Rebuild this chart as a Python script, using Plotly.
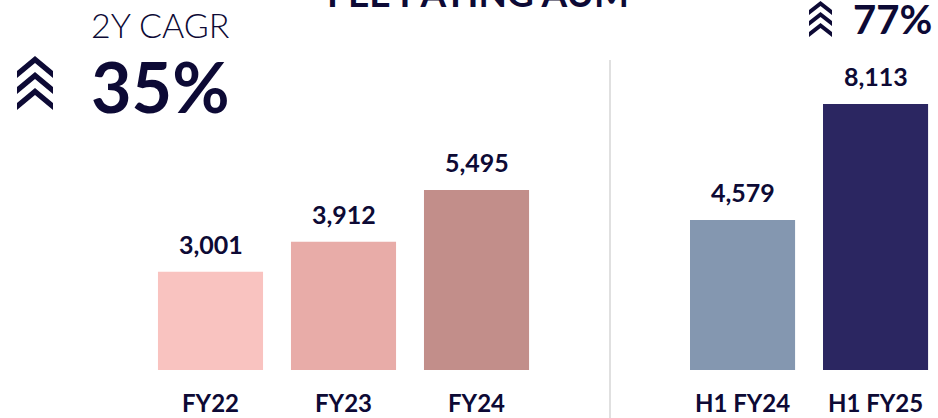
import plotly.graph_objects as go

# ---- data ----
annual_labels = ["FY22", "FY23", "FY24"]
annual_values = [3001, 3912, 5495]
half_labels = ["H1 FY24", "H1 FY25"]
half_values = [4579, 8113]
cagr_title = "2Y CAGR"
cagr_value = "35%"
half_growth = "77%"
chart_title = "FEE PAYING AUM"

annual_colors = ["#f9c3c0", "#e8aca8", "#c28e8a"]
half_colors = ["#8497b0", "#2b2661"]
NAVY = "#0d0a35"
FONT = "Lato"

W, H = 938, 418
ML, MR, MB = 144, 3, 48
MT = 0
PW, PH = W - ML - MR, H - MT - MB

# positions: annual group, one empty slot, half-year group
annual_x = list(range(len(annual_labels)))
half_x = [len(annual_labels) + 1 + i for i in range(len(half_labels))]

labels = annual_labels + half_labels
values = annual_values + half_values
xs = annual_x + half_x
colors = annual_colors + half_colors

fig = go.Figure()
fig.add_trace(go.Bar(x=xs, y=values, marker=dict(color=colors, line=dict(width=0)),
                     width=0.79, hoverinfo="skip"))

# screen pixel -> paper coordinates
def px(xp):
    return (xp - ML) / PW

def py(yp):
    return 1 - (yp - MT) / PH

annotations = []
for x, v in zip(xs, values):
    annotations.append(dict(x=x, y=v, xref="x", yref="y", text=f"{v:,}", showarrow=False,
                            yanchor="bottom", yshift=11,
                            font=dict(family=FONT, size=25, color=NAVY, weight="bold")))

annotations += [
    dict(x=px(160), y=py(24), xref="paper", yref="paper", text=cagr_title, showarrow=False,
         xanchor="center", yanchor="middle",
         font=dict(family=FONT, size=34, color=NAVY, weight=300)),
    dict(x=px(160), y=py(86), xref="paper", yref="paper", text=cagr_value, showarrow=False,
         xanchor="center", yanchor="middle",
         font=dict(family=FONT, size=70, color=NAVY, weight="bold")),
    dict(x=px(892), y=py(19), xref="paper", yref="paper", text=half_growth, showarrow=False,
         xanchor="center", yanchor="middle",
         font=dict(family=FONT, size=40, color=NAVY, weight="bold")),
    dict(x=px(478), y=py(-7), xref="paper", yref="paper", text=chart_title, showarrow=False,
         xanchor="center", yanchor="middle",
         font=dict(family=FONT, size=37, color=NAVY, weight="bold")),
]

def chevrons(cx, half, apexes, drop, t):
    shapes = []
    for ya in apexes:
        pts = [(cx, ya), (cx + half, ya + drop), (cx + half, ya + drop + t), (cx, ya + t),
               (cx - half, ya + drop + t), (cx - half, ya + drop)]
        path = "M " + " L ".join(f"{px(a):.5f},{py(b):.5f}" for a, b in pts) + " Z"
        shapes.append(dict(type="path", path=path, xref="paper", yref="paper",
                           fillcolor=NAVY, line=dict(width=0)))
    return shapes

shapes = []
shapes += chevrons(35, 18, [56, 72, 88], 15, 7)
shapes += chevrons(820.5, 11.5, [1, 12, 23], 9, 5)
shapes.append(dict(type="line", xref="paper", yref="paper",
                   x0=px(610), x1=px(610), y0=py(60), y1=py(420),
                   line=dict(color="#e0e0e0", width=2)))

fig.update_layout(
    width=W, height=H,
    margin=dict(l=ML, r=MR, t=MT, b=MB, pad=0),
    paper_bgcolor="white", plot_bgcolor="white",
    showlegend=False,
    annotations=annotations,
    shapes=shapes,
    xaxis=dict(range=[-0.5, 5.447], tickmode="array", tickvals=xs, ticktext=labels,
               showgrid=False, zeroline=False, showline=False,
               ticks="outside", ticklen=12, tickcolor="rgba(0,0,0,0)",
               tickfont=dict(family=FONT, size=24, color=NAVY, weight="bold"),
               fixedrange=True),
    yaxis=dict(range=[0, 11290], visible=False, showgrid=False, zeroline=False, fixedrange=True),
)

fig.write_html("out.html", config={"displayModeBar": False},
               post_script="document.body.style.margin='0';document.body.style.overflow='hidden';")
